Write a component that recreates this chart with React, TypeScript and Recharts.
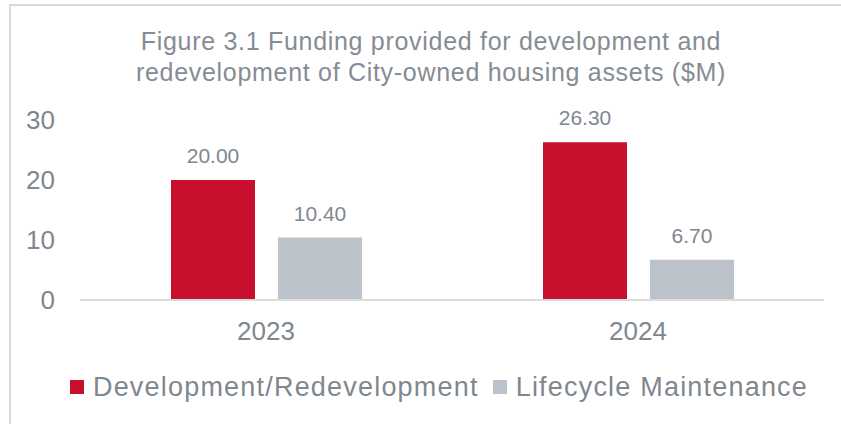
import React from "react";
import { BarChart, Bar, XAxis, YAxis, LabelList, Legend } from "recharts";

const years = ["2023", "2024"];
const development = [20.0, 26.3];
const lifecycle = [10.4, 6.7];
const yTicks = [0, 10, 20, 30];
const seriesNames = ["Development/Redevelopment", "Lifecycle Maintenance"];

const COLORS = ["#C8102E", "#BBC2C9"];
const TEXT = "#80878F";
const FONT = "'Liberation Sans', Arial, sans-serif";

const data = years.map((year, i) => ({
  year,
  dev: development[i],
  life: lifecycle[i],
}));

const fmt = (v: any) => Number(v).toFixed(2);

function LegendBox() {
  return (
    <div
      style={{
        display: "flex",
        justifyContent: "center",
        alignItems: "center",
        height: 32,
        fontFamily: FONT,
        fontSize: 27,
        letterSpacing: 1.2,
        color: TEXT,
        paddingLeft: 34,
      }}
    >
      {seriesNames.map((name, i) => (
        <div key={name} style={{ display: "flex", alignItems: "center", marginRight: i === 0 ? 14 : 0 }}>
          <span style={{ width: 14, height: 14, background: COLORS[i], marginRight: 9, display: "inline-block" }} />
          <span>{name}</span>
        </div>
      ))}
    </div>
  );
}

export default function App() {
  return (
    <div style={{ position: "absolute", left: 0, top: 0, width: 841, height: 424, background: "#fff", overflow: "hidden" }}>
      <div
        style={{
          position: "absolute",
          left: 9,
          top: 4,
          width: 840,
          height: 430,
          borderTop: "2px solid #D9D9D9",
          borderLeft: "2px solid #D9D9D9",
        }}
      />
      <div
        style={{
          position: "absolute",
          left: 0,
          top: 26,
          width: 862,
          textAlign: "center",
          fontFamily: FONT,
          fontSize: 25,
          letterSpacing: 0.7,
          lineHeight: "31px",
          color: "#858C94",
        }}
      >
        Figure 3.1 Funding provided for development and
        <br />
        redevelopment of City-owned housing assets ($M)
      </div>
      <div style={{ position: "absolute", left: 0, top: 0 }}>
        <BarChart
          width={841}
          height={424}
          data={data}
          margin={{ top: 120, right: 17, bottom: 52, left: 20 }}
          barSize={84}
          barGap={23}
        >
          <XAxis
            dataKey="year"
            axisLine={{ stroke: "#DCDCDC", strokeWidth: 2 }}
            tickLine={false}
            tickMargin={16}
            tick={{ fill: TEXT, fontSize: 26, fontFamily: FONT }}
            height={40}
          />
          <YAxis
            domain={[0, 30]}
            ticks={yTicks}
            axisLine={false}
            tickLine={false}
            tickMargin={19}
            width={60}
            tick={{ fill: TEXT, fontSize: 26, fontFamily: FONT }}
          />
          <Legend
            verticalAlign="bottom"
            height={32}
            content={() => <LegendBox />}
            wrapperStyle={{ bottom: 21 }}
          />
          <Bar dataKey="dev" name={seriesNames[0]} fill={COLORS[0]} isAnimationActive={false}>
            <LabelList dataKey="dev" position="top" offset={17} formatter={fmt} fill={TEXT} fontSize={21} fontFamily={FONT} />
          </Bar>
          <Bar dataKey="life" name={seriesNames[1]} fill={COLORS[1]} isAnimationActive={false}>
            <LabelList dataKey="life" position="top" offset={17} formatter={fmt} fill={TEXT} fontSize={21} fontFamily={FONT} />
          </Bar>
        </BarChart>
      </div>
    </div>
  );
}
